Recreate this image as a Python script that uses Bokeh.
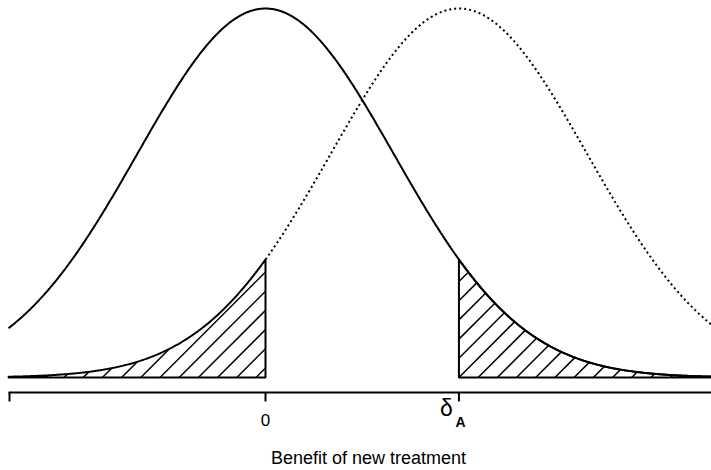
import numpy as np
from bokeh.plotting import figure
from bokeh.models import Range1d
from bokeh.core.properties import value
from bokeh.embed import file_html
from bokeh.resources import INLINE

# ---- chart content -------------------------------------------------------
null_mean = 0.0          # distribution of the estimate if no benefit
alt_mean = 1.51          # delta_A, in standard-deviation units
sd = 1.0
tick_values = [0.0, 1.51]
tick_text = ["0", "δ"]
tick_sub = ["", "A"]
x_label = "Benefit of new treatment"

# ---- layout ----------------------------------------------------------------
W, H = 711, 470
PX_X = 128.1            # pixels per x unit
PX_Y = 369.0            # pixels per unit of (normalised) density
X_START = -265.0 / PX_X
X_END = X_START + W / PX_X
Y_END = 1.0 + 8.0 / PX_Y
Y_START = Y_END - H / PX_Y
HATCH_GAP = 19.2        # px between hatch lines (45 degrees)


def py(page_y):
    return Y_END - page_y / PX_Y


def pxx(page_x):
    return X_START + page_x / PX_X


def to_px(x):
    return (x - X_START) * PX_X


X_LEFT = pxx(8)          # where the drawing starts
X_RIGHT = X_END


def dens(x, m):
    return np.exp(-0.5 * ((x - m) / sd) ** 2)


def hatch_lines(xa, xb, mean, anchor_px):
    """45-degree hatch lines inside the area under dens(., mean) on [xa, xb]."""
    a_px, b_px = to_px(xa), to_px(xb)
    k_lo = int(np.floor((a_px - 400 - anchor_px) / HATCH_GAP))
    k_hi = int(np.ceil((b_px - anchor_px) / HATCH_GAP))
    out_x, out_y = [], []
    for k in range(k_lo, k_hi + 1):
        x0 = anchor_px + k * HATCH_GAP
        start = max(a_px, x0)
        if start >= b_px:
            continue
        xx = np.append(np.arange(start, b_px, 0.1), b_px)
        yy = xx - x0
        h = PX_Y * dens(X_START + xx / PX_X, mean)
        ok = yy <= h
        if not ok[0]:
            continue
        bad = np.where(~ok)[0]
        end = bad[0] if len(bad) else len(xx)
        if end < 2 or (xx[end - 1] - xx[0]) < 0.8:
            continue
        out_x.append([X_START + xx[0] / PX_X, X_START + xx[end - 1] / PX_X])
        out_y.append([yy[0] / PX_Y, yy[end - 1] / PX_Y])
    return out_x, out_y


p = figure(width=W, height=H, output_backend="svg", toolbar_location=None,
           x_range=Range1d(X_START, X_END), y_range=Range1d(Y_START, Y_END),
           x_axis_type=None, y_axis_type=None, min_border=0,
           background_fill_color="white", border_fill_color="white")
p.outline_line_color = None
p.grid.visible = False

# solid curve (null)
xs = np.linspace(X_LEFT, X_RIGHT, 600)
p.line(xs, dens(xs, null_mean), line_color="black", line_width=2)

# dotted curve (alternative), from 0 onwards
xd = np.linspace(null_mean, X_RIGHT, 400)
p.line(xd, dens(xd, alt_mean), line_color="black", line_width=2,
       line_dash="2 3")

# left hatched tail: alternative below 0
hx, hy = hatch_lines(X_LEFT, null_mean, alt_mean, 255.5)
p.multi_line(hx, hy, line_color="black", line_width=1.5)
xl = np.linspace(X_LEFT, null_mean, 300)
p.patch(np.concatenate([xl, [null_mean, X_LEFT]]),
        np.concatenate([dens(xl, alt_mean), [0, 0]]),
        fill_color=None, line_color="black", line_width=2)

# right hatched tail: null above delta_A
hx, hy = hatch_lines(alt_mean, X_RIGHT, null_mean, to_px(alt_mean))
p.multi_line(hx, hy, line_color="black", line_width=1.5)
xr = np.linspace(alt_mean, X_RIGHT, 300)
p.patch(np.concatenate([xr, [X_RIGHT, alt_mean]]),
        np.concatenate([dens(xr, null_mean), [0, 0]]),
        fill_color=None, line_color="black", line_width=2)

# axis line and ticks
y_axis = py(392)
y_tick = py(401)
p.segment(x0=[X_LEFT], y0=[y_axis], x1=[X_RIGHT], y1=[y_axis],
          line_color="black", line_width=2)
tick_x = [X_LEFT + 1.0 / PX_X] + tick_values
p.segment(x0=tick_x, y0=[y_axis] * len(tick_x), x1=tick_x,
          y1=[y_tick] * len(tick_x), line_color="black", line_width=2)

# tick labels
p.text(x=[tick_values[0]], y=[py(419.5)], text=[tick_text[0]],
       text_font=value("Liberation Sans"), text_font_size="17px",
       text_align="center", text_baseline="middle", text_color="black")
p.text(x=[tick_values[1] - (458.5 - 446) / PX_X], y=[py(407)],
       text=[tick_sub[0] + tick_text[1]], text_font=value("Liberation Sans"),
       text_font_size="23px", text_align="center", text_baseline="middle",
       text_color="black")
p.text(x=[tick_values[1] + (460 - 458.5) / PX_X], y=[py(421.5)],
       text=[tick_sub[1]], text_font=value("Liberation Sans"),
       text_font_size="14px", text_font_style="bold",
       text_align="center", text_baseline="middle", text_color="black")

# axis title
p.text(x=[pxx(368)], y=[py(457.5)], text=[x_label],
       text_font=value("Liberation Sans"), text_font_size="18px",
       text_align="center", text_baseline="middle", text_color="black")

open("out.html", "w").write(file_html(p, INLINE))
